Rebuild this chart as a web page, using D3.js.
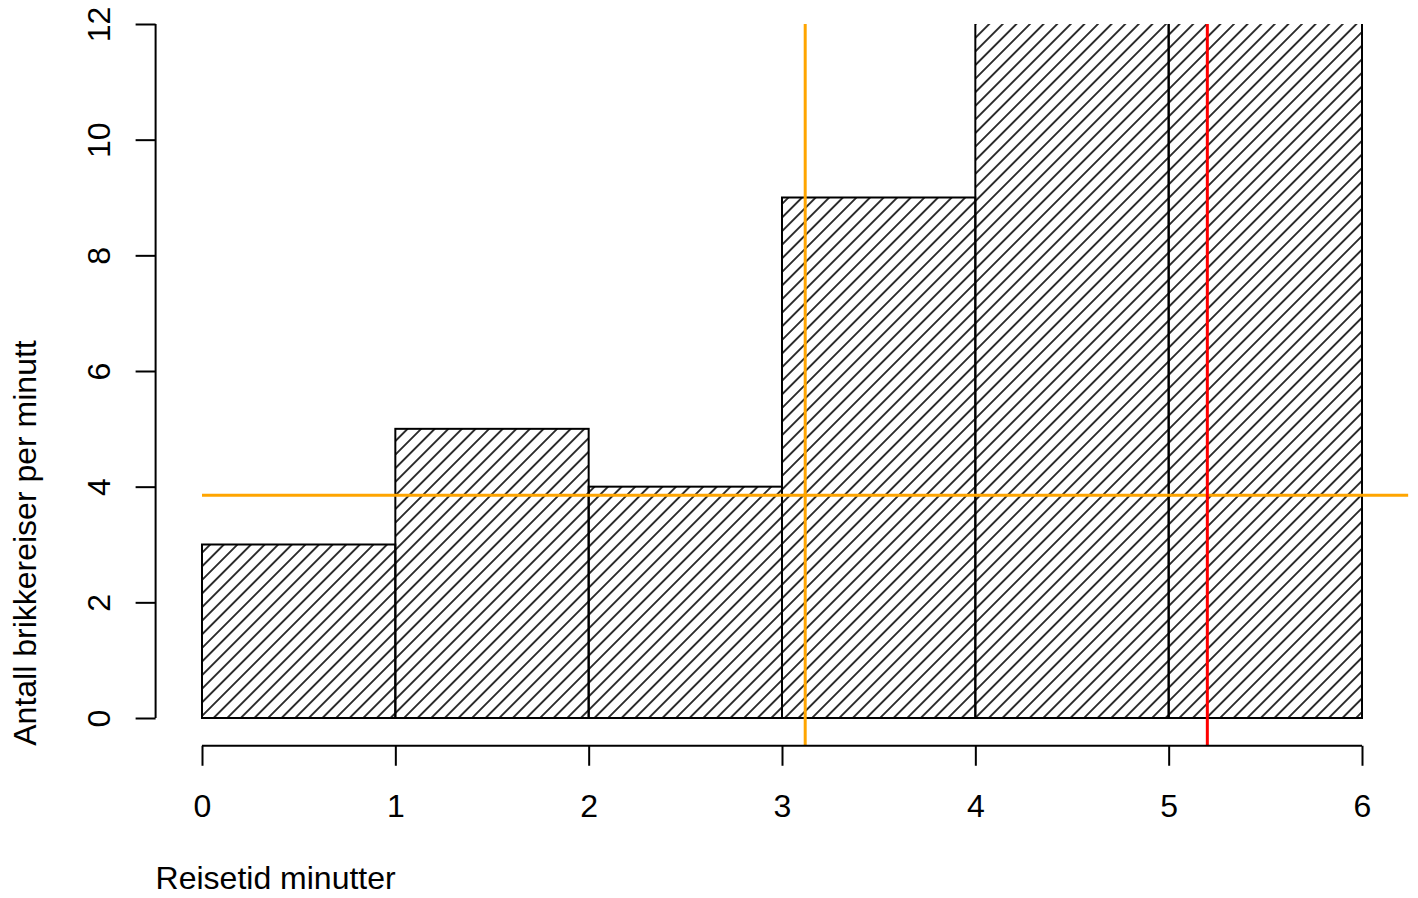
<!DOCTYPE html>
<html>
<head>
<meta charset="utf-8">
<script src="https://cdn.jsdelivr.net/npm/d3@7"></script>
<style>
  html, body { margin: 0; padding: 0; background: #fff; }
  svg { display: block; }
  text { font-family: "Liberation Sans", Arial, Helvetica, sans-serif; fill: #000; }
</style>
</head>
<body>
<svg id="chart" width="1418" height="898"></svg>
<script>
// ---- data ----
const binStarts = [0, 1, 2, 3, 4, 5];
const binEnds   = [1, 2, 3, 4, 5, 6];
const rates     = [3, 5, 4, 9, 13, 14];   // bars 4-5 and 5-6 exceed the y-limit (clipped)
const xTicks = [0, 1, 2, 3, 4, 5, 6];
const yTicks = [0, 2, 4, 6, 8, 10, 12];
const meanRate = 3.85;      // orange horizontal line
const meanTime = 3.12;      // orange vertical line
const medianTime = 5.2;     // red vertical line
const xTitle = "Reisetid minutter";
const yTitle = "Antall brikkereiser per minutt";

// ---- layout ----
const FS = 32;
const x = d3.scaleLinear().domain([0, 6]).range([202, 1362]);
const y = d3.scaleLinear().domain([0, 12]).range([718, 24]);
const ext = 0.04 * 6;
const plotL = x(-ext), plotR = x(6 + ext);
const plotT = y(12), plotB = y(-0.48);

const svg = d3.select("#chart");
const defs = svg.append("defs");
const sp = 13.6 / Math.SQRT2;
const pat = defs.append("pattern")
  .attr("id", "hatch")
  .attr("patternUnits", "userSpaceOnUse")
  .attr("width", sp).attr("height", sp)
  .attr("patternTransform", "rotate(45)");
pat.append("line")
  .attr("x1", sp / 2).attr("y1", -1).attr("x2", sp / 2).attr("y2", sp + 1)
  .attr("stroke", "#000").attr("stroke-width", 1.6);

defs.append("clipPath").attr("id", "plotclip")
  .append("rect")
  .attr("x", plotL).attr("y", plotT)
  .attr("width", plotR - plotL).attr("height", plotB - plotT);

const plot = svg.append("g").attr("clip-path", "url(#plotclip)");

// bars
const bars = binStarts.map((s, i) => ({ x0: s, x1: binEnds[i], v: rates[i] }));
plot.selectAll("rect.bar").data(bars).enter().append("rect")
  .attr("class", "bar")
  .attr("x", d => x(d.x0))
  .attr("y", d => y(d.v))
  .attr("width", d => x(d.x1) - x(d.x0))
  .attr("height", d => y(0) - y(d.v))
  .attr("fill", "url(#hatch)")
  .attr("stroke", "#000")
  .attr("stroke-width", 2);

// reference lines
plot.append("line")
  .attr("x1", x(0)).attr("x2", plotR)
  .attr("y1", y(meanRate)).attr("y2", y(meanRate))
  .attr("stroke", "#FFA500").attr("stroke-width", 3);
plot.append("line")
  .attr("x1", x(meanTime)).attr("x2", x(meanTime))
  .attr("y1", plotT).attr("y2", plotB)
  .attr("stroke", "#FFA500").attr("stroke-width", 3);
plot.append("line")
  .attr("x1", x(medianTime)).attr("x2", x(medianTime))
  .attr("y1", plotT).attr("y2", plotB)
  .attr("stroke", "#FF0000").attr("stroke-width", 3);

// x axis
const xAxis = d3.axisBottom(x).tickValues(xTicks).tickSize(20).tickFormat(d3.format("d"));
const gx = svg.append("g").attr("transform", `translate(0,${plotB})`).call(xAxis);
gx.select(".domain").attr("d", `M${x(0)},0H${x(6)}`).attr("stroke", "#000").attr("stroke-width", 2);
gx.selectAll(".tick line").attr("stroke", "#000").attr("stroke-width", 2);
gx.selectAll(".tick text").attr("font-size", FS).attr("font-family", '"Liberation Sans", Arial, sans-serif')
  .attr("fill", "#000").attr("dy", null).attr("y", 71);

// y axis
const yAxis = d3.axisLeft(y).tickValues(yTicks).tickSize(20).tickFormat(d3.format("d"));
const gy = svg.append("g").attr("transform", `translate(${plotL},0)`).call(yAxis);
gy.select(".domain").attr("d", `M0,${y(0)}V${y(12)}`).attr("stroke", "#000").attr("stroke-width", 2);
gy.selectAll(".tick line").attr("stroke", "#000").attr("stroke-width", 2);
gy.selectAll(".tick text")
  .attr("font-size", FS).attr("font-family", '"Liberation Sans", Arial, sans-serif')
  .attr("fill", "#000")
  .attr("x", null).attr("dy", null)
  .attr("text-anchor", "middle")
  .attr("transform", "translate(-46,0) rotate(-90)");

// titles
svg.append("text")
  .attr("x", plotL).attr("y", 889)
  .attr("font-size", FS)
  .attr("text-anchor", "start")
  .text(xTitle);
svg.append("text")
  .attr("transform", `translate(36,${plotB}) rotate(-90)`)
  .attr("font-size", FS)
  .attr("text-anchor", "start")
  .text(yTitle);
</script>
</body>
</html>
